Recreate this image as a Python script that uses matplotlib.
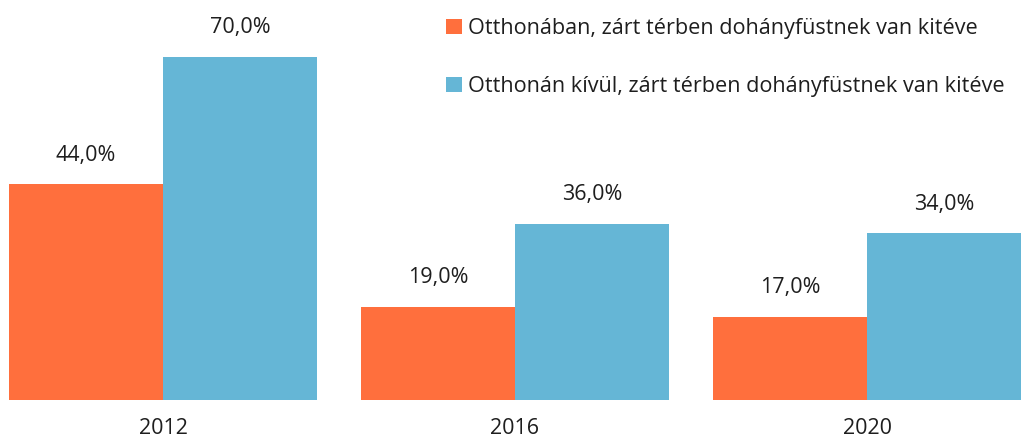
import numpy as np
import matplotlib.pyplot as plt

years = ['2012', '2016', '2020']
otthon = [44.0, 19.0, 17.0]
kivul = [70.0, 36.0, 34.0]
labels = ['Otthonában, zárt térben dohányfüstnek van kitéve',
          'Otthonán kívül, zárt térben dohányfüstnek van kitéve']
colors = ['#FF6F3D', '#65B6D6']

plt.rcParams['font.family'] = ['Open Sans', 'DejaVu Sans']

fig = plt.figure(figsize=(10.24, 4.41), dpi=100)
ax = fig.add_axes([0, 41 / 441, 1, 400 / 441])

x = np.arange(len(years))
w = 0.4375
b1 = ax.bar(x - w / 2, otthon, w, color=colors[0], label=labels[0])
b2 = ax.bar(x + w / 2, kivul, w, color=colors[1], label=labels[1])

for bars, vals in ((b1, otthon), (b2, kivul)):
    for r, v in zip(bars, vals):
        ax.text(r.get_x() + r.get_width() / 2, v + 5.9, f'{v:.1f}%'.replace('.', ','),
                ha='center', va='center', fontsize=15.5, color='#1e1e1e')

ax.set_xlim(-0.463, 2.446)
ax.set_ylim(0, 81.6)
ax.set_xticks(x)
ax.set_xticklabels(years, fontsize=15.5, color='#1e1e1e')
ax.tick_params(axis='x', length=0, pad=13)
ax.set_yticks([])
for s in ax.spines.values():
    s.set_visible(False)

leg = ax.legend(loc='upper left', bbox_to_anchor=(446 / 1024, 1 - 18 / 441),
                bbox_transform=fig.transFigure,
                frameon=False, fontsize=15.6, handlelength=0.72, handleheight=0.72,
                handletextpad=0.3, labelspacing=1.72, borderaxespad=0, borderpad=0)
for t in leg.get_texts():
    t.set_color('#1e1e1e')

fig.savefig('out.png', dpi=100)
